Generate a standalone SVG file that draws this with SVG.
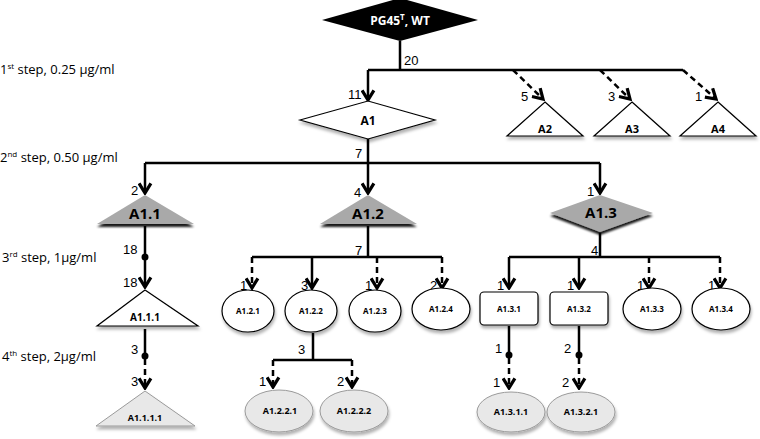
<svg xmlns="http://www.w3.org/2000/svg" width="760" height="439" viewBox="0 0 760 439">
<defs>
<style>
.c{fill:none;stroke:#000;stroke-width:2.5}
.d{stroke-dasharray:6,4}
.n{font-family:"Liberation Sans",Arial,sans-serif;font-size:13px;fill:#000}
.s{font-family:"Open Sans","Liberation Sans",sans-serif;font-size:13px;fill:#000}
.l{font-family:"Open Sans","Liberation Sans",sans-serif;font-weight:bold;fill:#000;text-anchor:middle}
.w{fill:#fff;stroke:#000;stroke-width:1.2}
.g{fill:#a9a9a9}
.lg{fill:#e8e8e8;stroke:#9a9a9a;stroke-width:1}
</style>
<marker id="ah" markerUnits="userSpaceOnUse" viewBox="0 0 12 14" markerWidth="13" markerHeight="15" refX="10" refY="7" orient="auto">
<path d="M1,1.5 L10,7 L1,12.5" fill="none" stroke="#000" stroke-width="3"/>
</marker>
<filter id="sh" x="-20%" y="-20%" width="140%" height="150%">
<feDropShadow dx="1" dy="3" stdDeviation="1.5" flood-color="#000" flood-opacity="0.3"/>
</filter>
<filter id="shd" x="-20%" y="-20%" width="140%" height="150%">
<feDropShadow dx="0" dy="3" stdDeviation="1" flood-color="#000" flood-opacity="0.9"/>
</filter>
</defs>

<g id="step-labels">
<text class="s" x="0" y="74">1<tspan font-size="8" dy="-5">st</tspan><tspan dy="5"> step, 0.25 µg/ml</tspan></text>
<text class="s" x="0" y="162">2<tspan font-size="8" dy="-5">nd</tspan><tspan dy="5"> step, 0.50 µg/ml</tspan></text>
<text class="s" x="2" y="262">3<tspan font-size="8" dy="-5">rd</tspan><tspan dy="5"> step, 1µg/ml</tspan></text>
<text class="s" x="2" y="361">4<tspan font-size="8" dy="-5">th</tspan><tspan dy="5"> step, 2µg/ml</tspan></text>
</g>

<g id="connectors">
<path class="c" d="M400,41 V70 M368,70 H683"/>
<path class="c" d="M368,70 V100" marker-end="url(#ah)"/>
<path class="c d" d="M513,70 L543,99" marker-end="url(#ah)"/>
<path class="c d" d="M600,70 L630,99" marker-end="url(#ah)"/>
<path class="c d" d="M683,70 L716,99" marker-end="url(#ah)"/>
<path class="c" d="M368,139 V163 M145,163 H600"/>
<path class="c" d="M145,163 V193" marker-end="url(#ah)"/>
<path class="c" d="M368,163 V193" marker-end="url(#ah)"/>
<path class="c" d="M600,163 V193" marker-end="url(#ah)"/>
<path class="c" d="M145,226 V287" marker-end="url(#ah)"/>
<circle cx="145" cy="257" r="3.5"/>
<path class="c" d="M145,329 V357"/>
<circle cx="145" cy="356" r="3.5"/>
<path class="c d" d="M145,359 V388" marker-end="url(#ah)"/>
<path class="c" d="M368,226 V257 M252,257 H442"/>
<path class="c d" d="M252,257 V288" marker-end="url(#ah)"/>
<path class="c" d="M312,257 V288" marker-end="url(#ah)"/>
<path class="c d" d="M377,257 V288" marker-end="url(#ah)"/>
<path class="c d" d="M442,257 V288" marker-end="url(#ah)"/>
<path class="c" d="M600,233 V257 M509,257 H720"/>
<path class="c" d="M509,257 V288" marker-end="url(#ah)"/>
<path class="c" d="M579,257 V288" marker-end="url(#ah)"/>
<path class="c d" d="M649,257 V288" marker-end="url(#ah)"/>
<path class="c d" d="M720,257 V288" marker-end="url(#ah)"/>
<path class="c" d="M313,333 V360 M273,360 H352"/>
<path class="c d" d="M273,360 V387" marker-end="url(#ah)"/>
<path class="c d" d="M352,360 V387" marker-end="url(#ah)"/>
<path class="c" d="M509,326 V356 M579,326 V356"/>
<circle cx="509" cy="355" r="3.5"/>
<circle cx="579" cy="355" r="3.5"/>
<path class="c d" d="M509,358 V388" marker-end="url(#ah)"/>
<path class="c d" d="M579,358 V388" marker-end="url(#ah)"/>
</g>

<g id="edge-labels" class="n">
<text x="404" y="65">20</text>
<text x="348" y="99">11</text>
<text x="521" y="101">5</text>
<text x="608" y="101">3</text>
<text x="695" y="101">1</text>
<text x="355" y="158">7</text>
<text x="131" y="195">2</text>
<text x="354" y="197">4</text>
<text x="587" y="196">1</text>
<text x="123" y="254">18</text>
<text x="123" y="287">18</text>
<text x="355" y="255">7</text>
<text x="591" y="255">4</text>
<text x="240" y="290">1</text>
<text x="301" y="290">3</text>
<text x="365" y="290">1</text>
<text x="430" y="290">2</text>
<text x="497" y="290">1</text>
<text x="567" y="290">1</text>
<text x="637" y="290">1</text>
<text x="708" y="290">1</text>
<text x="131" y="354">3</text>
<text x="131" y="386">3</text>
<text x="298" y="354">3</text>
<text x="259" y="386">1</text>
<text x="337" y="386">2</text>
<text x="495" y="353">1</text>
<text x="564" y="353">2</text>
<text x="493" y="387">1</text>
<text x="562" y="387">2</text>
</g>

<g id="PG45">
<polygon points="322,20 400,-2 478,20 400,41" fill="#000"/>
<text class="l" x="400" y="25" font-size="12" style="fill:#fff">PG45<tspan font-size="8" dy="-5">T</tspan><tspan dy="5">, WT</tspan></text>
</g>
<g id="A1">
<polygon class="w" points="300,120 368,101 435,120 368,139" filter="url(#sh)"/>
<text class="l" x="368" y="125" font-size="12">A1</text>
</g>
<g id="A2">
<polygon class="w" points="545,102 583,136 507,136" filter="url(#sh)"/>
<text class="l" x="545" y="133" font-size="11">A2</text>
</g>
<g id="A3">
<polygon class="w" points="632,102 670,136 594,136" filter="url(#sh)"/>
<text class="l" x="632" y="133" font-size="11">A3</text>
</g>
<g id="A4">
<polygon class="w" points="718,102 756,136 680,136" filter="url(#sh)"/>
<text class="l" x="718" y="133" font-size="11">A4</text>
</g>
<g id="A1.1">
<polygon class="g" points="145,195 194,224 97,224" filter="url(#shd)"/>
<text class="l" x="145" y="219" font-size="15">A1.1</text>
</g>
<g id="A1.2">
<polygon class="g" points="368,195 417,224 320,224" filter="url(#shd)"/>
<text class="l" x="368" y="219" font-size="15">A1.2</text>
</g>
<g id="A1.3">
<polygon class="g" points="550,213 600,195 653,213 600,232" filter="url(#shd)"/>
<text class="l" x="601" y="218" font-size="15">A1.3</text>
</g>
<g id="A1.1.1">
<polygon class="w" points="145,290 198,326 97,326" filter="url(#sh)"/>
<text class="l" x="145" y="321" font-size="10">A1.1.1</text>
</g>
<g id="A1.1.1.1">
<polygon class="lg" points="145,391 195,426 96,426" filter="url(#sh)"/>
<text class="l" x="145" y="421" font-size="9">A1.1.1.1</text>
</g>
<g id="A1.2.1">
<ellipse class="w" cx="248" cy="311" rx="26" ry="21" filter="url(#sh)"/>
<text class="l" x="248" y="314" font-size="8">A1.2.1</text>
</g>
<g id="A1.2.2">
<ellipse class="w" cx="311" cy="311" rx="26" ry="21" filter="url(#sh)"/>
<text class="l" x="311" y="314" font-size="8">A1.2.2</text>
</g>
<g id="A1.2.3">
<ellipse class="w" cx="375" cy="311" rx="26" ry="21" filter="url(#sh)"/>
<text class="l" x="375" y="314" font-size="8">A1.2.3</text>
</g>
<g id="A1.2.4">
<ellipse class="w" cx="441" cy="309" rx="29" ry="21" filter="url(#sh)"/>
<text class="l" x="441" y="312" font-size="8">A1.2.4</text>
</g>
<g id="A1.3.1">
<rect class="w" x="480" y="292" width="58" height="33" rx="4" filter="url(#sh)"/>
<text class="l" x="509" y="312" font-size="8">A1.3.1</text>
</g>
<g id="A1.3.2">
<rect class="w" x="550" y="292" width="58" height="33" rx="4" filter="url(#sh)"/>
<text class="l" x="579" y="312" font-size="8">A1.3.2</text>
</g>
<g id="A1.3.3">
<ellipse class="w" cx="652" cy="309" rx="29" ry="21" filter="url(#sh)"/>
<text class="l" x="652" y="312" font-size="8">A1.3.3</text>
</g>
<g id="A1.3.4">
<ellipse class="w" cx="721" cy="309" rx="29" ry="21" filter="url(#sh)"/>
<text class="l" x="721" y="312" font-size="8">A1.3.4</text>
</g>
<g id="A1.2.2.1">
<ellipse class="lg" cx="279" cy="411" rx="34" ry="21" filter="url(#sh)"/>
<text class="l" x="280" y="414" font-size="9">A1.2.2.1</text>
</g>
<g id="A1.2.2.2">
<ellipse class="lg" cx="354" cy="411" rx="34" ry="21" filter="url(#sh)"/>
<text class="l" x="354" y="414" font-size="9">A1.2.2.2</text>
</g>
<g id="A1.3.1.1">
<ellipse class="lg" cx="511" cy="412" rx="34" ry="20" filter="url(#sh)"/>
<text class="l" x="511" y="415" font-size="9">A1.3.1.1</text>
</g>
<g id="A1.3.2.1">
<ellipse class="lg" cx="581" cy="412" rx="34" ry="20" filter="url(#sh)"/>
<text class="l" x="581" y="415" font-size="9">A1.3.2.1</text>
</g>
</svg>
